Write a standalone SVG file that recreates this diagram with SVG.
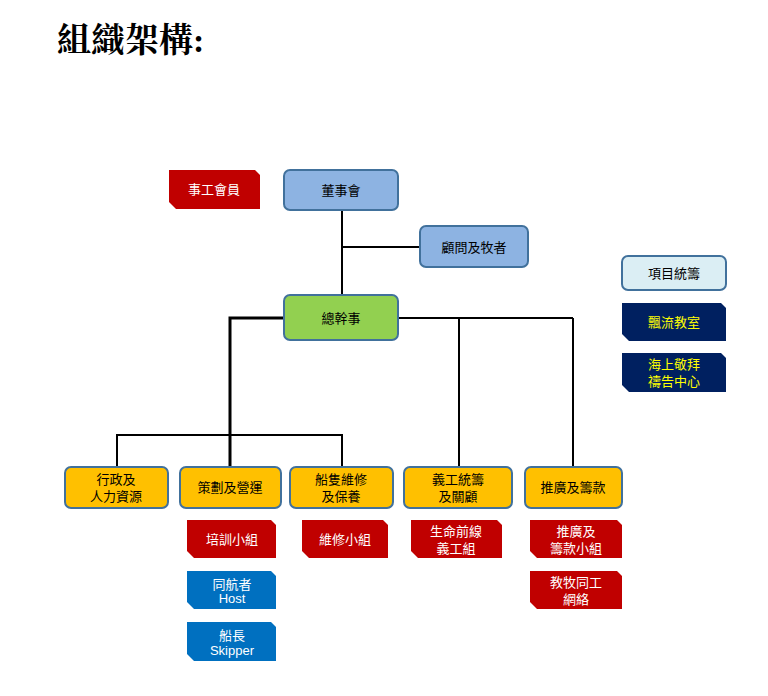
<svg xmlns="http://www.w3.org/2000/svg" width="768" height="696" viewBox="0 0 768 696">
<style>
text{font-family:"Liberation Sans","Noto Sans CJK TC",sans-serif;font-size:13px;text-anchor:middle}
.box{stroke:#41719c;stroke-width:2}
.blue{fill:#8db3e2}.green{fill:#92d050}.yel{fill:#ffc000}.lt{fill:#dbeef4}
.red{fill:#c00000}.bl{fill:#0070c0}.nv{fill:#002060}
.w{fill:#fff}.y{fill:#ffff00}
.c line,.c polyline{stroke:#000;stroke-width:2;fill:none}
</style>
<rect width="768" height="696" fill="#fff"/>
<text x="57" y="52" style="font-family:'Liberation Serif','Noto Serif CJK TC','Noto Sans CJK TC',serif;font-size:34px;font-weight:bold;text-anchor:start">組織架構:</text>
<g class="c">
<line x1="342" y1="210" x2="342" y2="295"/>
<line x1="342" y1="247" x2="420" y2="247"/>
<polyline points="284,318 230,318 230,467" style="stroke-width:3"/>
<line x1="398" y1="318" x2="573" y2="318"/>
<line x1="459" y1="318" x2="459" y2="467"/>
<line x1="573" y1="318" x2="573" y2="467"/>
<polyline points="117,467 117,435 342,435 342,467"/>
</g>
<g id="n1"><path class="red" d="M169,170H255L260,175V209H176L169,202Z"/><text class="w" x="214" y="194">事工會員</text></g>
<g id="n2"><rect class="box blue" x="284" y="170" width="114" height="40" rx="6"/><text x="341" y="195" font-size="14">董事會</text></g>
<g id="n3"><rect class="box blue" x="420" y="226" width="108" height="41" rx="6"/><text x="474" y="252" font-size="14">顧問及牧者</text></g>
<g id="n4"><rect class="box green" x="284" y="295" width="114" height="45" rx="6"/><text x="341" y="323" font-size="14">總幹事</text></g>
<g id="n5"><rect class="box yel" x="65" y="467" width="103" height="41" rx="6"/><text x="116" y="484">行政及</text><text x="116" y="501">人力資源</text></g>
<g id="n6"><rect class="box yel" x="180" y="467" width="101" height="41" rx="6"/><text x="230" y="492">策劃及營運</text></g>
<g id="n7"><rect class="box yel" x="290" y="467" width="103" height="41" rx="6"/><text x="341" y="484">船隻維修</text><text x="341" y="501">及保養</text></g>
<g id="n8"><rect class="box yel" x="404" y="467" width="108" height="41" rx="6"/><text x="458" y="484">義工統籌</text><text x="458" y="501">及關顧</text></g>
<g id="n9"><rect class="box yel" x="525" y="467" width="97" height="41" rx="6"/><text x="573" y="492">推廣及籌款</text></g>
<g id="n10"><path class="red" d="M187,520H271L276,525V558H194L187,551Z"/><text class="w" x="232" y="544">培訓小組</text></g>
<g id="n11"><path class="bl" d="M187,571H271L276,576V609H194L187,602Z"/><text class="w" x="232" y="589">同航者</text><text class="w" x="232" y="603" font-size="10">Host</text></g>
<g id="n12"><path class="bl" d="M187,622H271L276,627V661H194L187,654Z"/><text class="w" x="232" y="640">船長</text><text class="w" x="232" y="655" font-size="10">Skipper</text></g>
<g id="n13"><path class="red" d="M302,520H383L388,525V558H309L302,551Z"/><text class="w" x="345" y="544">維修小組</text></g>
<g id="n14"><path class="red" d="M411,520H497L502,525V558H418L411,551Z"/><text class="w" x="456" y="536">生命前線</text><text class="w" x="456" y="553">義工組</text></g>
<g id="n15"><path class="red" d="M530,520H617L622,525V558H537L530,551Z"/><text class="w" x="576" y="536">推廣及</text><text class="w" x="576" y="553">籌款小組</text></g>
<g id="n16"><path class="red" d="M530,571H617L622,576V609H537L530,602Z"/><text class="w" x="576" y="587">教牧同工</text><text class="w" x="576" y="604">網絡</text></g>
<g id="n17"><rect class="box lt" x="622" y="256" width="104" height="34" rx="6"/><text x="674" y="278">項目統籌</text></g>
<g id="n18"><path class="nv" d="M622,303H721L726,308V341H629L622,334Z"/><text class="y" x="674" y="327">飄流教室</text></g>
<g id="n19"><path class="nv" d="M622,353H721L726,358V392H629L622,385Z"/><text class="y" x="674" y="369">海上敬拜</text><text class="y" x="674" y="386">禱告中心</text></g>
</svg>
